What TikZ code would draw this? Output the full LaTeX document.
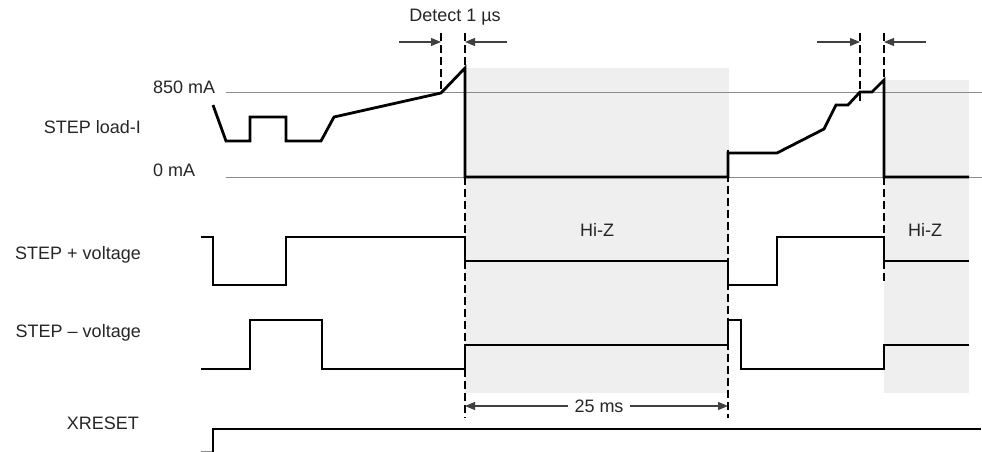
\documentclass[tikz,border=0pt]{standalone}
\usepackage{fontspec}
\setmainfont{Liberation Sans}
\usetikzlibrary{arrows.meta}
\definecolor{shadegray}{HTML}{EFEFEF}
\definecolor{arrowgray}{HTML}{404040}
\definecolor{refgray}{HTML}{8C8C8C}
\definecolor{textgray}{HTML}{262626}
\begin{document}
\begin{tikzpicture}[x=1pt,y=-1pt,
  trace/.style={line width=2.8pt, line join=miter, black},
  refline/.style={line width=1pt, refgray},
  guide/.style={line width=1.1pt, black, dash pattern=on 8pt off 4pt},
  dimarrow/.style={line width=1.1pt, arrowgray, -{Triangle[length=10pt,width=8pt]}},
  lbl/.style={font=\fontsize{18}{21}\selectfont, text=textgray, inner sep=0pt},
]
\useasboundingbox (0,0) rectangle (982,452);

% shaded Hi-Z regions
\fill[shadegray] (465,68) rectangle (729,393);
\fill[shadegray] (884,80) rectangle (969,393);

% reference levels
\draw[refline] (226,92) -- (982,92);
\draw[refline] (226,177) -- (982,177);

% guide coordinates
\coordinate (gA top) at (441,33);  \coordinate (gA bot) at (441,93);
\coordinate (gB top) at (465,33);  \coordinate (gB bot) at (465,418);
\coordinate (gC top) at (728,150); \coordinate (gC bot) at (728,418);
\coordinate (gD top) at (860,33);  \coordinate (gD bot) at (860,104);
\coordinate (gE top) at (884,33);  \coordinate (gE bot) at (884,284);
\draw[guide] (gA top) -- (gA bot);
\draw[guide] (gB top) -- (gB bot);
\draw[guide] (gC top) -- (gC bot);
\draw[guide] (gD top) -- (gD bot);
\draw[guide] (gE top) -- (gE bot);

% detect arrows
\coordinate (dA tail) at (399,42); \coordinate (dA tip) at (441,42);
\coordinate (dB tail) at (507,42); \coordinate (dB tip) at (465,42);
\coordinate (dC tail) at (817,42); \coordinate (dC tip) at (860,42);
\coordinate (dD tail) at (926,42); \coordinate (dD tip) at (884,42);
\draw[dimarrow] (dA tail) -- (dA tip);
\draw[dimarrow] (dB tail) -- (dB tip);
\draw[dimarrow] (dC tail) -- (dC tip);
\draw[dimarrow] (dD tail) -- (dD tip);
\node[lbl] (detect) at (455,17) {Detect 1 µs};

% 25 ms dimension
\coordinate (msL) at (465,406);
\coordinate (msR) at (728,406);
\node[lbl, inner xsep=6pt] (ms) at (599,406) {25 ms};
\draw[dimarrow] (ms.west) -- (msL);
\draw[dimarrow] (ms.east) -- (msR);

% STEP load-I
\draw[trace] (213,105) -- (226,141) -- (250,141) -- (250,117) -- (286,117)
  -- (286,141) -- (321,141) -- (334,117) -- (441,93) -- (465,68) -- (465,177)
  -- (728,177) -- (728,153) -- (777,153) -- (824,129) -- (836,105) -- (848,105)
  -- (860,92) -- (872,92) -- (884,80) -- (884,177) -- (969,177);

% STEP + voltage
\draw[trace] (201,237) -- (213,237) -- (213,285) -- (286,285) -- (286,237)
  -- (465,237) -- (465,261) -- (728,261) -- (728,285) -- (777,285) -- (777,237)
  -- (884,237) -- (884,261) -- (969,261);

% STEP - voltage
\draw[trace] (201,369) -- (250,369) -- (250,320) -- (322,320) -- (322,369)
  -- (465,369) -- (465,345) -- (728,345) -- (728,320) -- (741,320) -- (741,369)
  -- (884,369) -- (884,345) -- (969,345);

% XRESET
\draw[refline] (201,451) -- (213,451);
\draw[trace] (213,452) -- (213,429) -- (981,429);

% labels
\node[lbl, anchor=west] (l850) at (153,87) {850 mA};
\node[lbl, anchor=west] (l0) at (153,170) {0 mA};
\node[lbl, anchor=east] (lload) at (141,127) {STEP load-I};
\node[lbl, anchor=east] (lplus) at (141,255) {STEP + voltage};
\node[lbl, anchor=east] (lminus) at (141,333) {STEP – voltage};
\node[lbl, anchor=east] (lxr) at (139,423) {XRESET};
\node[lbl] (hiz1) at (597,230) {Hi-Z};
\node[lbl] (hiz2) at (925,230) {Hi-Z};
\end{tikzpicture}
\end{document}
